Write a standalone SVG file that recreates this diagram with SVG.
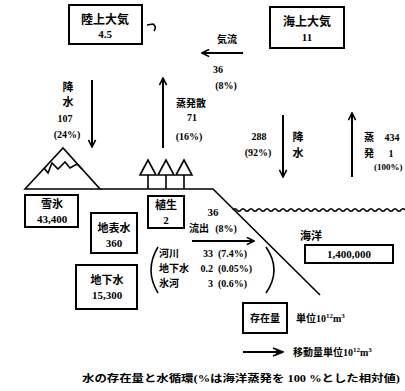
<svg xmlns="http://www.w3.org/2000/svg" width="405" height="391" viewBox="0 0 405 391">
  <style>
    .bg { fill: #ffffff; }
    .box { fill: none; stroke: #000; stroke-width: 2; }
    .ln { fill: none; stroke: #000; stroke-width: 1.6; }
    .arr { fill: none; stroke: #000; stroke-width: 2; }
    text { font-family: "Liberation Serif", "Noto Sans CJK JP", serif; font-weight: bold; fill: #000; }
    .c { text-anchor: middle; }
    .r { text-anchor: end; }
    .t11 { font-size: 11px; }
    .t10 { font-size: 10px; }
    .t12 { font-size: 12px; }
  </style>
  <defs>
    <marker id="head" viewBox="0 0 10 10" refX="9" refY="5" markerWidth="9" markerHeight="9" markerUnits="userSpaceOnUse" orient="auto">
      <path d="M1,1 L9,5 L1,9" fill="none" stroke="#000" stroke-width="1.8"/>
    </marker>
    <marker id="head2" viewBox="0 0 12 10" refX="11" refY="5" markerWidth="12" markerHeight="10" markerUnits="userSpaceOnUse" orient="auto">
      <path d="M1,1 L11,5 L1,9 M4,3 L10,5 L4,7" fill="none" stroke="#000" stroke-width="1.6"/>
    </marker>
  </defs>
  <rect class="bg" x="0" y="0" width="405" height="391"/>

  <!-- terrain: land surface, coastline slope and sea surface -->
  <g id="terrain">
    <path class="ln" d="M100,189 L213,189 L320,295"/>
    <path class="ln" d="M233,210 q2,-2.5 4,0 t4,0 t4,0 t4,0 t4,0 t4,0 t4,0 t4,0 t4,0 t4,0 t4,0 t4,0 t4,0 t4,0 t4,0 t4,0 t4,0 t4,0 t4,0 t4,0 t4,0 t4,0 t4,0 t4,0 t4,0 t4,0 t4,0 t4,0 t4,0 t4,0 t4,0 t4,0 t4,0 t4,0 t4,0 t4,0 t4,0 t4,0 t4,0 t4,0 t4,0 t4,0 t4,0"/>
  </g>

  <!-- snow-capped mountain -->
  <g id="mountain">
    <path class="ln" d="M25,189 L63,148 L100,189 Z"/>
    <path class="ln" d="M44,168 L48,173 L52,163 L58,169 L65,162 L70,168 L77,164 L82,169"/>
  </g>

  <!-- trees -->
  <g id="trees">
    <path class="ln" d="M140,175 L148,160 L156,175 Z M148,175 L148,189"/>
    <path class="ln" d="M158,175 L166,160 L174,175 Z M166,175 L166,189"/>
    <path class="ln" d="M176,175 L184,160 L192,175 Z M184,175 L184,189"/>
  </g>

  <g id="land-atmosphere">
    <rect class="box" x="69" y="5" width="73" height="39"/>
    <text class="c t12" x="105" y="24">陸上大気</text>
    <text class="c t11" x="105" y="38">4.5</text>
  </g>

  <g id="ocean-atmosphere">
    <rect class="box" x="270" y="7" width="74" height="41"/>
    <text class="c t12" x="307" y="26">海上大気</text>
    <text class="c t11" x="307" y="41">11</text>
  </g>

  <g id="snow-ice">
    <rect class="box" x="25" y="195" width="53" height="32"/>
    <text class="c t11" x="52" y="208">雪氷</text>
    <text class="c t11" x="52" y="223">43,400</text>
  </g>

  <g id="vegetation">
    <rect class="box" x="148" y="196" width="36" height="32"/>
    <text class="c t11" x="166" y="209">植生</text>
    <text class="c t11" x="166" y="224">2</text>
  </g>

  <g id="surface-water">
    <rect class="box" x="91" y="213" width="46" height="40"/>
    <text class="c t11" x="114" y="232">地表水</text>
    <text class="c t11" x="114" y="247">360</text>
  </g>

  <g id="groundwater">
    <rect class="box" x="76" y="265" width="61" height="44"/>
    <text class="c t11" x="107" y="284">地下水</text>
    <text class="c t11" x="107" y="299">15,300</text>
  </g>

  <g id="ocean">
    <text class="c t11" x="311" y="240">海洋</text>
    <rect class="box" x="305" y="245" width="88" height="18"/>
    <text class="c t11" x="349" y="258">1,400,000</text>
  </g>

  <!-- flows between reservoirs -->
  <g id="connectors">
    <path class="ln" d="M147,25 L153,24 Q157,27 154,31"/>
    <line class="arr" x1="243" y1="53" x2="202" y2="53" marker-end="url(#head)"/>
    <line class="arr" x1="92" y1="80" x2="92" y2="147" marker-end="url(#head)"/>
    <line class="arr" x1="163" y1="148" x2="163" y2="78" marker-end="url(#head)"/>
    <line class="arr" x1="283" y1="115" x2="283" y2="177" marker-end="url(#head)"/>
    <line class="arr" x1="352" y1="177" x2="352" y2="113" marker-end="url(#head)"/>
    <line class="arr" x1="192" y1="241" x2="254" y2="241" marker-end="url(#head)"/>
    <path class="ln" d="M158,247 Q144,270 158,293"/>
    <path class="ln" d="M266,247 Q282,270 266,293"/>
  </g>

  <g id="flow-labels">
    <text class="c t10" x="227" y="43">気流</text>
    <text class="c t10" x="218" y="73">36</text>
    <text class="c t10" x="226" y="89">(8%)</text>

    <text class="c t11" x="68" y="91">降</text>
    <text class="c t11" x="68" y="106">水</text>
    <text class="c t10" x="65" y="122">107</text>
    <text class="c t10" x="67" y="138">(24%)</text>

    <text class="c t10" x="191" y="107">蒸発散</text>
    <text class="c t10" x="192" y="121">71</text>
    <text class="c t10" x="189" y="140">(16%)</text>

    <text class="c t10" x="259" y="140">288</text>
    <text class="c t10" x="258" y="156">(92%)</text>
    <text class="c t11" x="298" y="141">降</text>
    <text class="c t11" x="298" y="157">水</text>

    <text class="c t10" x="369" y="141">蒸</text>
    <text class="c t10" x="369" y="157">発</text>
    <text class="c t10" x="392" y="141">434</text>
    <text class="c t10" x="391" y="157">1</text>
    <text x="374" y="170" font-size="9">(100%)</text>

    <text class="c t11" x="213" y="216">36</text>
    <text class="c t10" x="199" y="232">流出</text>
    <text class="c t10" x="226" y="232">(8%)</text>

    <text class="t10" x="159" y="257">河川</text>
    <text class="t10" x="159" y="272">地下水</text>
    <text class="t10" x="159" y="287">氷河</text>
    <text class="r t10" x="213" y="257">33</text>
    <text class="r t10" x="213" y="272">0.2</text>
    <text class="r t10" x="213" y="287">3</text>
    <text class="t10" x="218" y="257">(7.4%)</text>
    <text class="t10" x="218" y="272">(0.05%)</text>
    <text class="t10" x="218" y="287">(0.6%)</text>
  </g>

  <g id="legend">
    <rect class="box" x="243" y="303" width="44" height="30"/>
    <text class="c t10" x="265" y="322">存在量</text>
    <text class="t10" x="296" y="322">単位10<tspan font-size="7" dy="-4">12</tspan><tspan dy="4">m</tspan><tspan font-size="7" dy="-4">3</tspan></text>
    <line class="arr" x1="243" y1="352" x2="283" y2="352" marker-end="url(#head2)"/>
    <text class="t10" x="293" y="356">移動量単位10<tspan font-size="7" dy="-4">12</tspan><tspan dy="4">m</tspan><tspan font-size="7" dy="-4">3</tspan></text>
  </g>

  <text class="t10" x="82" y="382" textLength="318" lengthAdjust="spacingAndGlyphs">水の存在量と水循環(%は海洋蒸発を 100 %とした相対値)</text>
</svg>
